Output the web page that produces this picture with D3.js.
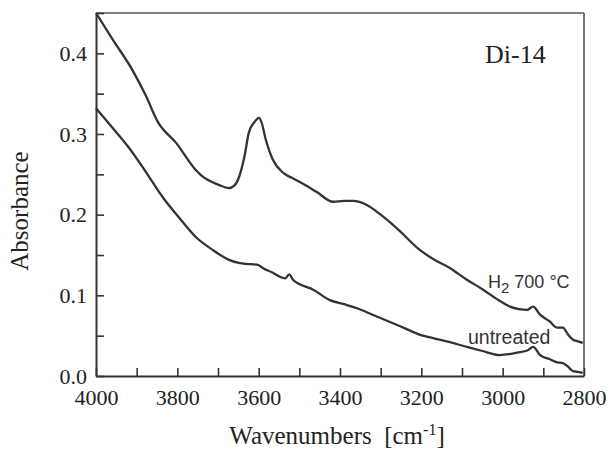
<!DOCTYPE html>
<html>
<head>
<meta charset="utf-8">
<script src="https://cdn.jsdelivr.net/npm/d3@7"></script>
<style>
  html, body { margin: 0; padding: 0; background: #fff; }
  svg { display: block; }
</style>
</head>
<body>
<svg id="chart" width="610" height="453"></svg>
<script>
// ---- data ----
const h2Wavenumbers = [4000, 3960, 3909, 3877, 3848, 3803, 3754, 3742, 3698, 3673, 3660, 3648, 3635, 3624, 3610, 3599, 3592, 3584, 3565, 3540, 3516, 3490, 3457, 3417, 3390, 3368, 3334, 3300, 3260, 3203, 3171, 3130, 3090, 3048, 3010, 2982, 2960, 2940, 2925, 2908, 2885, 2866, 2852, 2840, 2827, 2815, 2803];
const h2Absorbance  = [0.450, 0.418, 0.378, 0.347, 0.315, 0.289, 0.255, 0.249, 0.237, 0.233, 0.236, 0.247, 0.272, 0.302, 0.315, 0.320, 0.313, 0.296, 0.268, 0.252, 0.245, 0.238, 0.228, 0.216, 0.217, 0.217, 0.212, 0.200, 0.183, 0.156, 0.145, 0.134, 0.120, 0.107, 0.094, 0.086, 0.083, 0.082, 0.086, 0.076, 0.068, 0.060, 0.060, 0.052, 0.045, 0.043, 0.041];

const untreatedWavenumbers = [4000, 3960, 3919, 3880, 3835, 3795, 3754, 3715, 3673, 3646, 3631, 3604, 3587, 3565, 3548, 3535, 3525, 3515, 3500, 3466, 3425, 3390, 3358, 3320, 3277, 3240, 3203, 3171, 3130, 3088, 3050, 3007, 2985, 2965, 2938, 2925, 2908, 2885, 2866, 2852, 2840, 2827, 2815, 2803];
const untreatedAbsorbance  = [0.332, 0.308, 0.283, 0.255, 0.221, 0.196, 0.172, 0.157, 0.144, 0.140, 0.139, 0.138, 0.133, 0.128, 0.123, 0.121, 0.126, 0.119, 0.114, 0.107, 0.094, 0.089, 0.084, 0.076, 0.067, 0.059, 0.051, 0.047, 0.042, 0.036, 0.031, 0.026, 0.027, 0.029, 0.032, 0.036, 0.026, 0.021, 0.017, 0.016, 0.012, 0.006, 0.005, 0.004];

const xTickValues = [4000, 3900, 3800, 3700, 3600, 3500, 3400, 3300, 3200, 3100, 3000, 2900, 2800];
const xTickLabels = ["4000", "", "3800", "", "3600", "", "3400", "", "3200", "", "3000", "", "2800"];
const yTickValues = [0, 0.05, 0.1, 0.15, 0.2, 0.25, 0.3, 0.35, 0.4, 0.45];
const yTickLabels = ["0.0", "", "0.1", "", "0.2", "", "0.3", "", "0.4", ""];

const sampleLabel = "Di-14";
const xTitle = "Wavenumbers";
const yTitle = "Absorbance";

// ---- layout ----
const plotLeft = 96, plotRight = 584, plotTop = 13, plotBottom = 376;
const serif = "'Liberation Serif', 'Times New Roman', serif";
const sans = "'Liberation Sans', Arial, sans-serif";
const ink = "#333";

const svg = d3.select("#chart");
const x = d3.scaleLinear().domain([4000, 2800]).range([plotLeft, plotRight]);
const y = d3.scaleLinear().domain([0, 0.45]).range([plotBottom, plotTop]);

// frame (top/right)
svg.append("line").attr("x1", plotLeft).attr("x2", plotRight).attr("y1", plotTop).attr("y2", plotTop)
  .attr("stroke", "#555").attr("stroke-width", 1.6);
svg.append("line").attr("x1", plotRight).attr("x2", plotRight).attr("y1", plotTop).attr("y2", plotBottom)
  .attr("stroke", "#555").attr("stroke-width", 1.6);

// axes
const xAxis = d3.axisBottom(x).tickValues(xTickValues)
  .tickFormat((d, i) => xTickLabels[i]).tickSizeInner(-8).tickSizeOuter(0).tickPadding(13);
const yAxis = d3.axisLeft(y).tickValues(yTickValues)
  .tickFormat((d, i) => yTickLabels[i]).tickSizeInner(-8).tickSizeOuter(0).tickPadding(9);

const gx = svg.append("g").attr("transform", `translate(0,${plotBottom})`).call(xAxis);
const gy = svg.append("g").attr("transform", `translate(${plotLeft},0)`).call(yAxis);
[gx, gy].forEach(g => {
  g.select(".domain").attr("stroke", ink).attr("stroke-width", 2);
  g.selectAll(".tick line").attr("stroke", ink).attr("stroke-width", 1.6);
  g.selectAll(".tick text").attr("fill", "#222").style("font-family", serif).style("font-size", "22px");
});

// curves
const line = d3.line().x(d => x(d[0])).y(d => y(d[1])).curve(d3.curveMonotoneX);
const h2Data = h2Wavenumbers.map((w, i) => [w, h2Absorbance[i]]);
const unData = untreatedWavenumbers.map((w, i) => [w, untreatedAbsorbance[i]]);
[h2Data, unData].forEach(data => {
  svg.append("path").datum(data).attr("d", line)
    .attr("fill", "none").attr("stroke", ink).attr("stroke-width", 2.3)
    .attr("stroke-linejoin", "round");
});

// titles
svg.append("text").attr("transform", "translate(28,211) rotate(-90)")
  .attr("text-anchor", "middle").attr("fill", "#222")
  .style("font-family", serif).style("font-size", "25px").text(yTitle);

const xt = svg.append("text").attr("x", 337).attr("y", 444)
  .attr("text-anchor", "middle").attr("fill", "#222")
  .style("font-family", serif).style("font-size", "25px");
xt.append("tspan").text(xTitle + "\u00a0\u00a0[cm");
xt.append("tspan").attr("dy", -9).style("font-size", "16px").text("-1");
xt.append("tspan").attr("dy", 9).text("]");

// labels
svg.append("text").attr("x", 485).attr("y", 63).attr("fill", "#222")
  .style("font-family", serif).style("font-size", "26px").text(sampleLabel);

const hl = svg.append("text").attr("x", 488).attr("y", 288).attr("fill", "#333")
  .style("font-family", sans).style("font-size", "18px");
hl.append("tspan").text("H");
hl.append("tspan").attr("dy", 5).style("font-size", "15px").text("2");
hl.append("tspan").attr("dy", -5).text(" 700 °C");

svg.append("text").attr("x", 468).attr("y", 344).attr("fill", "#333")
  .style("font-family", sans).style("font-size", "19.5px").text("untreated");
</script>
</body>
</html>
